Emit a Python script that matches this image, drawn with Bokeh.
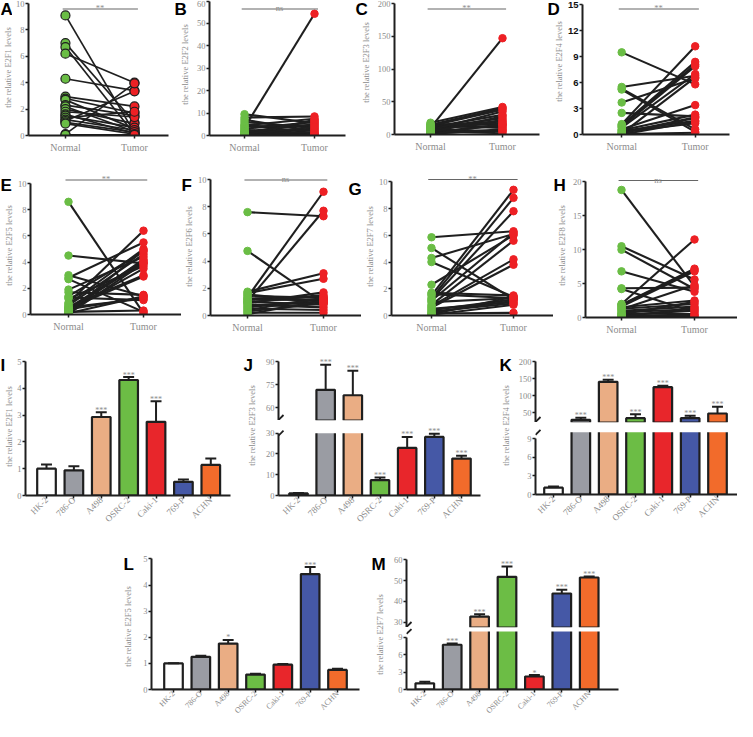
import math

from bokeh.core.properties import value
from bokeh.embed import file_html
from bokeh.layouts import column, row
from bokeh.models import FixedTicker, Label, Range1d, Spacer
from bokeh.plotting import figure
from bokeh.resources import INLINE

# ---- Data: paired normal / tumor levels ----
normal_e2f1 = [9.1, 7.0, 6.7, 6.2, 4.3, 2.95, 2.8, 2.7, 2.3, 2.2, 2.0, 1.8, 1.6, 1.5, 1.35, 1.2, 1.1, 1.0, 0.9, 0.1, 0.05]
tumor_e2f1 = [0.2, 1.0, 0.1, 4.0, 3.4, 2.2, 1.7, 0.5, 1.5, 0.3, 0.9, 1.4, 0.15, 0.6, 1.8, 0.4, 3.35, 0.25, 0.1, 3.95, 0.05]

normal_e2f2 = [9.5, 8.0, 7.0, 6.0, 5.0, 4.5, 4.0, 3.5, 3.0, 2.5, 2.0, 1.8, 1.5, 1.2, 1.0, 0.8, 0.6, 0.4, 0.3, 0.2]
tumor_e2f2 = [5.5, 8.5, 2.0, 3.5, 1.0, 7.5, 4.5, 54.3, 6.0, 0.5, 3.0, 5.0, 0.8, 2.5, 6.5, 0.3, 1.5, 4.0, 0.2, 7.0]

normal_e2f3 = [18, 16, 15, 14, 13, 12.5, 12, 11, 10, 9.5, 9, 8, 7, 6, 5, 4, 3, 2, 1, 0.5]
tumor_e2f3 = [42, 15, 40, 10, 38, 20, 12, 30, 147, 25, 18, 5, 35, 22, 2, 14, 28, 6, 8, 16]

normal_e2f4 = [9.5, 5.5, 5.3, 5.2, 3.7, 2.5, 1.2, 1.1, 1.0, 0.9, 0.8, 0.6, 0.5, 0.4, 0.3, 0.2, 0.1, 0.05, 0.0, 0.15]
tumor_e2f4 = [5.8, 6.8, 0.6, 0.3, 6.5, 2.1, 10.2, 8.4, 8.1, 7.9, 7.0, 3.4, 2.3, 1.6, 1.3, 2.0, 6.6, 0.2, 1.5, 1.9]

normal_e2f5 = [8.6, 4.5, 3.0, 2.8, 2.7, 1.9, 1.7, 1.4, 1.3, 1.2, 0.9, 0.8, 0.7, 0.6, 0.55, 0.5, 0.45, 0.4, 0.35,
               0.3, 0.25, 0.2, 0.15, 0.1, 0.05]
tumor_e2f5 = [0.1, 3.9, 1.4, 5.5, 0.2, 4.4, 1.5, 4.8, 1.1, 3.7, 6.4, 5.0, 4.6, 3.0, 1.2, 4.1, 2.9, 1.3, 4.0,
              3.5, 4.2, 0.3, 4.9, 1.4, 3.9]

normal_e2f6 = [7.6, 4.75, 1.75, 1.65, 1.55, 1.45, 1.35, 1.25, 1.2, 1.15, 1.05, 1.0, 0.95, 0.9, 0.8, 0.7, 0.6, 0.5,
               0.4, 0.3, 0.2, 0.1]
tumor_e2f6 = [7.3, 0.9, 3.1, 2.7, 1.0, 1.3, 9.1, 1.4, 1.1, 1.2, 7.7, 0.8, 1.5, 1.7, 0.6, 1.0, 1.2, 0.4, 1.3, 0.9,
              0.2, 1.1]

normal_e2f7 = [5.85, 5.05, 4.3, 4.0, 2.3, 1.7, 1.6, 1.5, 1.3, 1.2, 1.1, 1.0, 0.8, 0.7, 0.6, 0.5, 0.4, 0.3, 0.2,
               0.15, 0.1, 0.05]
tumor_e2f7 = [6.3, 1.2, 6.1, 1.4, 6.0, 1.5, 1.3, 9.4, 8.8, 7.8, 6.2, 1.3, 5.6, 4.2, 3.8, 1.0, 1.2, 0.9, 1.1, 0.2,
              1.4, 0.8]

normal_e2f8 = [18.8, 10.5, 10.0, 6.8, 4.3, 4.2, 2.0, 1.9, 1.8, 1.6, 1.5, 1.3, 1.2, 1.0, 0.8, 0.6, 0.5, 0.4, 0.3, 0.2, 0.1]
tumor_e2f8 = [4.6, 5.6, 4.2, 3.8, 4.4, 0.8, 11.5, 7.2, 7.0, 6.8, 2.5, 2.0, 4.8, 1.6, 1.2, 0.5, 2.3, 1.0, 0.3, 0.2, 1.4]

group_names = ["Normal", "Tumor"]

# ---- Data: cell-line bar charts ----
cell_lines = ["HK-2", "786-O", "A498", "OSRC-2", "Caki-1", "769-P", "ACHN"]
bar_colors = ["#ffffff", "#9a9ca3", "#eaad84", "#6cbd45", "#e8262b", "#4558a6", "#f26b2b"]

e2f1_mean = [1.0, 0.94, 2.93, 4.31, 2.75, 0.51, 1.14]
e2f1_err = [0.16, 0.15, 0.18, 0.11, 0.77, 0.09, 0.24]
e2f1_sig = ["", "", "***", "***", "***", "", ""]

e2f3_mean = [1.0, 71.5, 68.0, 7.4, 22.9, 28.2, 17.8]
e2f3_err = [0.2, 16.4, 16.0, 1.3, 5.3, 1.5, 1.3]
e2f3_sig = ["", "***", "***", "***", "***", "***", "***"]

e2f4_mean = [1.1, 28.4, 140.8, 33.1, 124.9, 33.1, 47.0]
e2f4_err = [0.18, 5.9, 5.9, 11.9, 4.1, 7.1, 19.9]
e2f4_sig = ["", "***", "***", "***", "***", "***", "***"]

e2f5_mean = [1.0, 1.25, 1.76, 0.57, 0.95, 4.42, 0.75]
e2f5_err = [0.01, 0.04, 0.14, 0.03, 0.03, 0.27, 0.04]
e2f5_sig = ["", "", "*", "", "", "***", ""]

e2f7_mean = [1.07, 7.7, 32.7, 51.8, 2.24, 43.8, 51.5]
e2f7_err = [0.26, 0.23, 1.1, 5.0, 0.26, 1.8, 0.5]
e2f7_sig = ["", "***", "***", "***", "*", "***", "***"]

# ---- Style ----
SERIF = "Liberation Serif"
SANS = "Liberation Sans"
INK = "#1f1f1f"
GRAY = "#8c8c8c"
GREEN = "#6abd45"
RED = "#ed2024"


def extent(e0, e1, va, pa, vb, pb):
    k = (vb - va) / (pb - pa)
    return va + (e0 - pa) * k, va + (e1 - pa) * k


def plain(p):
    p.outline_line_color = None
    p.xgrid.visible = False
    p.ygrid.visible = False
    if "frame_align" in p.properties():
        p.frame_align = False  # keep each frame where its borders put it
    return p


def make_fig(cell, frame, xr, yr, x_axis=True):
    cx0, cx1, cy0, cy1 = cell
    fx0, fx1, fy0, fy1 = frame
    p = figure(
        width=cx1 - cx0, height=cy1 - cy0,
        x_range=Range1d(*xr), y_range=Range1d(*yr),
        min_border_left=fx0 - cx0, min_border_right=cx1 - fx1,
        min_border_top=fy0 - cy0, min_border_bottom=cy1 - fy1,
        x_axis_location="below" if x_axis else None,
        output_backend="svg", toolbar_location=None,
    )
    return plain(p)


def style_axis(ax, size="8.5px", font=SERIF, color=GRAY, bold=False):
    ax.axis_line_width = 2
    ax.axis_line_color = INK
    ax.major_tick_line_color = INK
    ax.major_tick_line_width = 1.5
    ax.major_tick_out = 3
    ax.major_tick_in = 0
    ax.minor_tick_line_color = None
    ax.major_label_text_font = font
    ax.major_label_text_font_size = size
    ax.major_label_text_color = color
    ax.major_label_text_font_style = "bold" if bold else "normal"
    ax.major_label_standoff = 1


def style_y(p, ticks, bounds, bold=False):
    ax = p.yaxis[0]
    ax.ticker = FixedTicker(ticks=ticks)
    ax.bounds = bounds
    if bold:
        style_axis(ax, size="9.5px", font=SANS, color="#111111", bold=True)
    else:
        style_axis(ax)


def style_x(p, names, size, angle=None):
    ax = p.xaxis[0]
    ticks = list(range(len(names)))
    ax.ticker = FixedTicker(ticks=ticks)
    ax.major_label_overrides = dict(zip(ticks, names))
    style_axis(ax, size=size)
    if angle is not None:
        ax.major_label_orientation = angle
        ax.major_label_standoff = 0
    else:
        ax.major_label_standoff = 3


def strip(x0, x1, y0, y1, text, label_cx, label_cy, letters, base):
    # left strip: the panel letter on top, the y title (as an axis label) below
    w = x1 - x0
    box_h = int(base + 8 - y0)
    top = y0 + box_h
    head = figure(width=w, height=box_h, x_range=Range1d(x0, x1), y_range=Range1d(top, y0),
                  x_axis_type=None, y_axis_type=None, min_border=0,
                  output_backend="svg", toolbar_location=None)
    plain(head)
    for ch, lx in letters:
        head.add_layout(Label(x=lx, y=base - 4, text=ch, text_font=SANS, text_font_style="bold",
                              text_font_size="17px", text_color="black", text_baseline="alphabetic"))

    half = int(min(label_cy - top, y1 - label_cy))
    body = figure(width=w, height=y1 - top, x_range=Range1d(0, 1), y_range=Range1d(0, 1),
                  x_axis_location=None, y_axis_location="left",
                  min_border_left=min(w - 1, int(round(label_cx - x0 + 5))), min_border_right=0,
                  min_border_top=int(label_cy - half - top), min_border_bottom=int(y1 - label_cy - half),
                  output_backend="svg", toolbar_location=None)
    plain(body)
    ax = body.yaxis[0]
    ax.ticker = FixedTicker(ticks=[])
    ax.axis_line_color = None
    ax.major_tick_line_color = None
    ax.minor_tick_line_color = None
    ax.major_tick_out = 0
    ax.major_label_standoff = 0
    ax.axis_label = text
    ax.axis_label_text_font = SERIF
    ax.axis_label_text_font_size = "8.5px"
    ax.axis_label_text_font_style = "normal"
    ax.axis_label_text_color = GRAY
    ax.axis_label_standoff = 0
    return column(head, body)


def paired_panel(spec, normal, tumor, gene, sig):
    frame = spec["frame"]
    xr = extent(frame[0], frame[1], 0, spec["nx"], 1, spec["tx"])
    yr = extent(frame[3], frame[2], 0, frame[3], spec["ymax"], spec["ytop"])
    p = make_fig(spec["cell"], frame, xr, yr)
    n = len(normal)
    if spec.get("outline"):
        p.segment(x0=[0] * n, y0=normal, x1=[1] * n, y1=tumor, line_color=INK, line_width=1.7)
        p.scatter([0] * n, normal, size=9, fill_color=GREEN, line_color=INK, line_width=1.2)
        p.scatter([1] * n, tumor, size=9, fill_color=RED, line_color=INK, line_width=1.2)
    else:
        p.segment(x0=[0] * n, y0=normal, x1=[1] * n, y1=tumor, line_color=INK, line_width=2.1)
        p.scatter([0] * n, normal, size=7.5, fill_color=GREEN, line_color=GREEN)
        p.scatter([1] * n, tumor, size=7.5, fill_color=RED, line_color=RED)

    # significance bar
    ppu = (frame[3] - frame[2]) / (yr[1] - yr[0])
    ys = (frame[3] - spec["sig_px"]) / ppu
    p.segment(x0=[-0.04], y0=[ys], x1=[1.05], y1=[ys], line_color="#666666", line_width=1.2)
    p.add_layout(Label(x=0.5, y=ys, y_offset=1, text=sig, text_font=SERIF, text_font_size="8.5px",
                       text_color=GRAY, text_align="center", text_baseline="alphabetic"))

    step = spec["step"]
    ticks = [step * i for i in range(int(round(spec["ymax"] / step)) + 1)]
    style_y(p, ticks, (0, spec["ymax"]), bold=spec.get("bold", False))
    style_x(p, group_names, "10px")
    for ch, lx, base in spec.get("inner_letters", []):
        p.add_layout(Label(x=xr[0], y=yr[1], x_offset=lx - frame[0], y_offset=frame[2] - base, text=ch,
                           text_font=SANS, text_font_style="bold", text_font_size="17px",
                           text_color="black", text_baseline="alphabetic"))
    s = spec["strip"]
    letters = [(spec["letter"], s[3])] if spec["letter"] else []
    lab = strip(s[0], spec["cell"][0], spec["cell"][2], spec["cell"][3], f"the relative {gene} levels",
                s[1], s[2], letters, spec["base"])
    return row(lab, p)


def draw_bars(p, frame, means, errs, sigs, mode="full", cut=None):
    yr = (p.y_range.start, p.y_range.end)
    ppu = (frame[3] - frame[2]) / (yr[1] - yr[0])
    xs, tops, bots, cols = [], [], [], []
    keep = []
    for i, m in enumerate(means):
        if mode == "upper" and m <= cut:
            continue
        xs.append(i)
        cols.append(bar_colors[i])
        if mode == "lower" and m > cut:
            tops.append(yr[1] + 100)
        else:
            tops.append(m)
            keep.append(i)
        bots.append(yr[0] - 100 if mode == "upper" else 0)
    p.vbar(x=xs, width=0.68, bottom=bots, top=tops, fill_color=cols, line_color=INK, line_width=2.2)
    if mode == "lower":
        p.quad(left=[p.x_range.start], right=[p.x_range.end], bottom=[cut], top=[yr[1] + 1],
               fill_color="white", line_color=None)
    e0 = [means[i] for i in keep]
    e1 = [means[i] + errs[i] for i in keep]
    p.segment(x0=keep, y0=e0, x1=keep, y1=e1, line_color=INK, line_width=2)
    p.segment(x0=[x - 0.2 for x in keep], y0=e1, x1=[x + 0.2 for x in keep], y1=e1, line_color=INK, line_width=2)
    sx = [i for i in keep if sigs[i]]
    p.text(x=sx, y=[means[i] + errs[i] + 2 / ppu for i in sx], text=[sigs[i] for i in sx],
           text_font=value(SERIF), text_font_size="8px", text_color=GRAY,
           text_align="center", text_baseline="alphabetic")
    return ppu


def break_mark(p, frame, yc, ppu):
    xppu = (frame[1] - frame[0]) / (p.x_range.end - p.x_range.start)
    x0 = p.x_range.start
    p.segment(x0=[x0], y0=[yc - 2.5 / ppu], x1=[x0 + 5 / xppu], y1=[yc + 2.5 / ppu],
              line_color=INK, line_width=1.8)


def bar_panel(cell, frame, c0, c1, ycal, ticks, means, errs, sigs, label_size):
    xr = extent(frame[0], frame[1], 0, c0, 6, c1)
    yr = extent(frame[3], frame[2], *ycal)
    p = make_fig(cell, frame, xr, yr)
    draw_bars(p, frame, means, errs, sigs)
    style_y(p, ticks, (0, ticks[-1]))
    style_x(p, cell_lines, label_size, angle=math.pi / 4)
    return p


def broken_panel(cx, fx, c0, c1, y0, split, y1, low_bottom, up_cal, up_ticks, low_cal, low_ticks, cut,
                 means, errs, sigs, label_size):
    xr = extent(fx[0], fx[1], 0, c0, 6, c1)
    up_frame = (fx[0], fx[1], y0, split)
    up = make_fig((cx[0], cx[1], y0, split), up_frame, xr, extent(split, y0, *up_cal), x_axis=False)
    up_ppu = draw_bars(up, up_frame, means, errs, sigs, mode="upper", cut=cut)
    style_y(up, up_ticks, (up.y_range.start, up_ticks[-1]))
    break_mark(up, up_frame, up.y_range.start + 3 / up_ppu, up_ppu)

    low_frame = (fx[0], fx[1], split, low_bottom)
    low = make_fig((cx[0], cx[1], split, y1), low_frame, xr, extent(low_bottom, split, *low_cal))
    ppu = draw_bars(low, low_frame, means, errs, sigs, mode="lower", cut=cut)
    style_y(low, low_ticks, (0, low_ticks[-1]))
    style_x(low, cell_lines, label_size, angle=math.pi / 4)
    break_mark(low, low_frame, cut, ppu)
    return column(up, low)


# ---- Panel geometry (reference pixels; the page adds an 8px margin) ----
R1 = (8, 178)
R2 = (178, 352)
R3 = (352, 558)
R4 = (558, 729)

specs = {
    "A": dict(cell=(20, 182) + R1, frame=(32, 176, 8, 143), nx=70, tx=141, ytop=11, ymax=10, step=2,
              sig_px=16.5, strip=(8, 12, 75, 8), letter="A", base=21, outline=True),
    "B": dict(cell=(200, 362) + R1, frame=(217, 353, 8, 143), nx=252, tx=322, ytop=8.5, ymax=60, step=10,
              sig_px=16.5, strip=(182, 191.7, 72, 182), letter="B", base=21),
    "C": dict(cell=(382, 553) + R1, frame=(402, 547, 8, 142), nx=438, tx=510, ytop=11, ymax=200, step=50,
              sig_px=16.5, strip=(362, 373, 70, 363), letter="C", base=21),
    "D": dict(cell=(572, 745) + R1, frame=(587, 737, 8, 142), nx=627, tx=702, ytop=12.3, ymax=15, step=3,
              sig_px=16.5, strip=(553, 566, 69, 555), letter="D", base=21, bold=True),
    "E": dict(cell=(22, 189) + R2, frame=(38, 189, 178, 322), nx=76, tx=151, ytop=191, ymax=10, step=2,
              sig_px=187.5, strip=(8, 12.3, 253, 8), letter="E", base=197),
    "F": dict(cell=(201, 369) + R2, frame=(218, 369, 178, 323), nx=255, tx=331, ytop=187, ymax=10, step=2,
              sig_px=187.5, strip=(189, 195, 254, 189), letter="F", base=197,
              inner_letters=[("G", 356, 197)]),
    "G": dict(cell=(382, 561) + R2, frame=(399, 561, 178, 323), nx=439, tx=521, ytop=189.3, ymax=10, step=2,
              sig_px=187, strip=(369, 375, 254, 400), letter="", base=197),
    "H": dict(cell=(576, 745) + R2, frame=(593, 745, 178, 325), nx=629, tx=702, ytop=189.3, ymax=20, step=5,
              sig_px=188, strip=(561, 565, 253, 561), letter="H", base=197),
}

pA = paired_panel(specs["A"], normal_e2f1, tumor_e2f1, "E2F1", "**")
pB = paired_panel(specs["B"], normal_e2f2, tumor_e2f2, "E2F2", "ns")
pC = paired_panel(specs["C"], normal_e2f3, tumor_e2f3, "E2F3", "**")
pD = paired_panel(specs["D"], normal_e2f4, tumor_e2f4, "E2F4", "**")
pE = paired_panel(specs["E"], normal_e2f5, tumor_e2f5, "E2F5", "**")
pF = paired_panel(specs["F"], normal_e2f6, tumor_e2f6, "E2F6", "ns")
pG = paired_panel(specs["G"], normal_e2f7, tumor_e2f7, "E2F7", "**")
pH = paired_panel(specs["H"], normal_e2f8, tumor_e2f8, "E2F8", "ns")

ilab = strip(8, 22, R3[0], R3[1], "the relative E2F1 levels", 13, 434, [("I", 8)], 377)
pI = bar_panel((22, 250) + R3, (33, 238, 352, 503), 54, 218.3, (0, 503, 5, 369), [0, 1, 2, 3, 4, 5],
               e2f1_mean, e2f1_err, e2f1_sig, "9px")

jlab = strip(250, 266, R3[0], R3[1], "the relative E2F3 levels", 259, 433, [("J", 251)], 377)
pJ = broken_panel((266, 505), (286, 488), 306, 469, R3[0], 428, R3[1], 503,
                  (60, 415, 90, 369), [60, 75, 90], (0, 503, 30, 440.7), [0, 10, 20, 30], 30,
                  e2f3_mean, e2f3_err, e2f3_sig, "9px")

klab = strip(505, 522, R3[0], R3[1], "the relative E2F4 levels", 513, 433, [("K", 507)], 377)
pK = broken_panel((522, 745), (543, 745), 561, 725, R3[0], 430, R3[1], 502,
                  (50, 420, 200, 369.3), [50, 100, 150, 200], (0, 502, 9, 446), [0, 3, 6, 9], 10,
                  e2f4_mean, e2f4_err, e2f4_sig, "9px")

llab = strip(125, 146, R4[0], R4[1], "the relative E2F5 levels", 135, 634, [("L", 131)], 576)
pL = bar_panel((146, 378) + R4, (159, 367, 558, 701), 181, 345, (0, 701, 5, 566.7), [0, 1, 2, 3, 4, 5],
               e2f5_mean, e2f5_err, e2f5_sig, "8px")

mlab = strip(378, 394, R4[0], R4[1], "the relative E2F7 levels", 387, 642, [("M", 379)], 576)
pM = broken_panel((394, 640), (414, 626), 432.3, 596.7, R4[0], 635, R4[1], 702,
                  (30, 629.7, 60, 567.3), [30, 40, 50, 60], (0, 702, 9, 645.5), [0, 3, 6, 9], 10,
                  e2f7_mean, e2f7_err, e2f7_sig, "8px")

layout = column(
    row(pA, pB, pC, pD),
    row(pE, pF, pG, pH),
    row(ilab, pI, jlab, pJ, klab, pK),
    row(Spacer(width=117, height=171), llab, pL, mlab, pM, Spacer(width=105, height=171)),
)

open("out.html", "w").write(file_html(layout, INLINE))
